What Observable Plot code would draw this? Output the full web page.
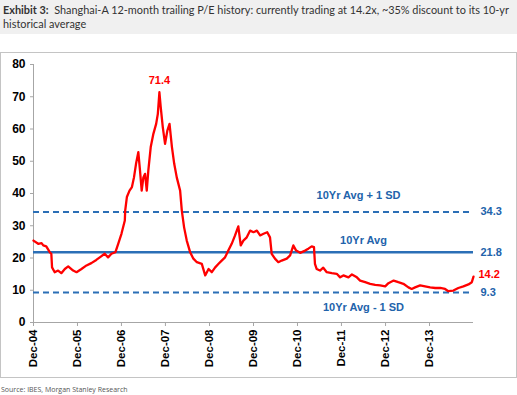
<!DOCTYPE html>
<html>
<head>
<meta charset="utf-8">
<script src="https://cdn.jsdelivr.net/npm/d3@7"></script>
<script src="https://cdn.jsdelivr.net/npm/@observablehq/plot@0.6"></script>
<style>
  html, body { margin: 0; padding: 0; background: #fff; }
  body { width: 517px; height: 395px; position: relative; overflow: hidden; }
  #title { position: absolute; left: 0; top: 0; width: 514px; height: 31px; padding: 3px 0 0 3px;
    background: #f0f0f0; font-family: Lato, "Open Sans", sans-serif; font-size: 10.9px; line-height: 14px; color: #333; }
  #frame { position: absolute; left: 0; top: 52px; width: 515px; height: 324px; border: 1px solid #c4c4c4; }
  #frame svg { display: block; }
  #caption { position: absolute; left: 1px; top: 385px; font-family: "Open Sans", sans-serif; font-size: 7px; color: #555; }
</style>
</head>
<body>
<div id="title"><b>Exhibit 3:</b>&nbsp; Shanghai-A 12-month trailing P/E history: currently trading at 14.2x, ~35% discount to its 10-yr<br>historical average</div>
<div id="frame"></div>
<div id="caption">Source: IBES, Morgan Stanley Research</div>
<script>
// ---- data ----
const dates = [
  "2004-12-01","2005-01-09","2005-02-06","2005-02-20","2005-03-17","2005-04-15","2005-04-28","2005-05-04",
  "2005-05-26","2005-06-23","2005-07-20","2005-08-18","2005-09-15","2005-10-26","2005-11-23","2006-01-03",
  "2006-02-14","2006-03-26","2006-05-06","2006-06-04","2006-07-15","2006-08-12","2006-09-09","2006-10-12",
  "2006-11-04","2006-12-01","2006-12-29","2007-01-01","2007-01-15","2007-02-06","2007-02-26","2007-03-15",
  "2007-04-01","2007-04-20","2007-05-04","2007-05-18","2007-06-01","2007-06-15","2007-06-29","2007-07-12",
  "2007-08-01","2007-08-23","2007-09-15","2007-09-29","2007-10-12","2007-10-23","2007-11-09","2007-11-28",
  "2007-12-17","2008-01-04","2008-01-24","2008-02-12","2008-03-04","2008-04-01","2008-04-15","2008-05-04",
  "2008-05-26","2008-06-23","2008-07-20","2008-08-18","2008-09-28","2008-10-26","2008-11-23","2008-12-20",
  "2009-01-17","2009-02-14","2009-03-12","2009-04-09","2009-05-06","2009-06-03","2009-07-01","2009-07-28",
  "2009-08-17","2009-09-08","2009-10-06","2009-11-03","2009-12-01","2009-12-29","2010-01-25","2010-02-22",
  "2010-03-25","2010-04-17","2010-05-01","2010-05-28","2010-06-25","2010-07-23","2010-09-03","2010-10-01",
  "2010-10-28","2010-11-20","2010-12-23","2011-02-03","2011-03-01","2011-03-29","2011-04-17","2011-04-25",
  "2011-05-09","2011-06-06","2011-07-03","2011-08-01","2011-09-12","2011-10-23","2011-11-20","2011-12-17",
  "2012-01-28","2012-02-26","2012-04-07","2012-05-04","2012-06-15","2012-07-26","2012-09-06","2012-10-17",
  "2012-11-28","2012-12-25","2013-02-06","2013-03-17","2013-04-28","2013-06-09","2013-07-06","2013-08-03",
  "2013-09-14","2013-10-25","2013-12-06","2014-01-17","2014-02-28","2014-04-09","2014-05-06","2014-06-17",
  "2014-07-28","2014-09-08","2014-10-20","2014-11-17","2014-12-01"
];
const pe = [
  25.4,24.4,24.6,23.9,23.6,21.8,21.3,17.1,
  15.6,16.1,15.3,16.6,17.4,16.1,15.6,16.6,
  17.7,18.4,19.4,20.2,21.3,20.2,21.3,21.8,
  24.4,27.5,31.6,34.7,38.9,40.9,42.0,45.0,
  49.2,52.8,47.1,40.9,45.0,46.1,40.9,47.1,
  54.4,58.5,61.6,64.7,71.4,66.8,60.6,55.4,
  59.5,61.6,54.4,49.2,45.0,40.9,34.7,29.5,
  25.4,21.8,19.8,18.7,18.2,14.6,16.6,15.6,
  17.1,18.2,19.2,20.2,22.3,24.4,27.0,29.8,
  23.9,25.4,26.4,28.5,28.0,28.5,27.0,27.5,
  28.0,26.4,21.3,19.8,18.7,19.2,19.8,20.8,
  23.9,22.3,21.6,22.3,22.9,23.6,23.4,18.2,
  16.6,16.1,17.0,15.6,15.3,15.1,14.0,14.6,
  14.0,14.9,14.0,13.0,12.5,12.0,11.7,11.5,
  11.2,12.2,13.0,12.5,12.0,10.9,10.4,10.9,
  11.5,11.2,10.9,10.7,10.7,10.4,9.7,9.9,
  10.7,11.2,11.8,12.5,14.2
];
const tickLabels = ["Dec-04","Dec-05","Dec-06","Dec-07","Dec-08","Dec-09","Dec-10","Dec-11","Dec-12","Dec-13"];
const yTicks = [0,10,20,30,40,50,60,70,80];
const refValues = [34.3, 21.8, 9.3];
const refNames = ["10Yr Avg + 1 SD", "10Yr Avg", "10Yr Avg - 1 SD"];
const peakValue = 71.4;
const currentValue = 14.2;

// ---- build ----
const parse = d3.utcParse("%Y-%m-%d");
const series = dates.map((d, i) => ({date: parse(d), pe: pe[i]}));
const fmt = d3.utcFormat("%b-%y");
const tickDates = tickLabels.map(s => d3.utcParse("%b-%y")(s));
const start = series[0].date, end = series[series.length - 1].date;
const peak = series.find(d => d.pe === peakValue);
const last = series[series.length - 1];
const blue = "#2b6fb6";
const blueText = "#2263ab";
const font = "'Liberation Sans', Arial, sans-serif";

const refs = refValues.map((v, i) => ({v, name: refNames[i], date: end}));

const chart = Plot.plot({
  width: 515, height: 324,
  marginTop: 11, marginBottom: 55, marginLeft: 32, marginRight: 43,
  style: {fontFamily: font, fontSize: "12px", fontWeight: "bold", color: "#000", background: "transparent"},
  x: {type: "utc", domain: [start, end]},
  y: {domain: [0, 80]},
  marks: [
    Plot.ruleX([start], {stroke: "#a6a6a6", strokeWidth: 1}),
    Plot.ruleY([0], {stroke: "#a6a6a6", strokeWidth: 1}),
    Plot.axisY({ticks: yTicks, tickSize: 3, tickPadding: 5, stroke: "#a6a6a6", fill: "#000", label: null, fontSize: 12}),
    Plot.axisX({ticks: tickDates, tickFormat: fmt, tickRotate: -90, tickSize: 4, tickPadding: 3, stroke: "#a6a6a6", fill: "#000", label: null, fontSize: 11.5}),
    Plot.ruleY([refValues[0], refValues[2]], {stroke: blue, strokeWidth: 2, strokeDasharray: "6,4"}),
    Plot.ruleY([refValues[1]], {stroke: blue, strokeWidth: 2.5}),
    Plot.line(series, {x: "date", y: "pe", stroke: "#ff0000", strokeWidth: 2.3, strokeLinejoin: "round"}),
    // value labels at right
    Plot.text(refs, {x: "date", y: "v", text: d => d.v.toFixed(1), textAnchor: "start", dx: 7, fill: blueText, fontSize: 11, fontWeight: "bold"}),
    Plot.text([last], {x: "date", y: "pe", text: d => d.pe.toFixed(1), textAnchor: "start", dx: 5, dy: -2, fill: "#ff0000", fontSize: 11, fontWeight: "bold"}),
    // line names
    Plot.text([refs[0]], {x: "date", y: "v", text: "name", dx: -115, dy: -16, fill: blueText, fontSize: 11, fontWeight: "bold"}),
    Plot.text([refs[1]], {x: "date", y: "v", text: "name", dx: -110, dy: -12, fill: blueText, fontSize: 11, fontWeight: "bold"}),
    Plot.text([refs[2]], {x: "date", y: "v", text: "name", dx: -110, dy: 15, fill: blueText, fontSize: 11, fontWeight: "bold"}),
    // peak label
    Plot.text([peak], {x: "date", y: "pe", text: d => d.pe.toFixed(1), dy: -12, fill: "#ff0000", fontSize: 11, fontWeight: "bold"})
  ]
});
document.getElementById("frame").appendChild(chart);
</script>
</body>
</html>
